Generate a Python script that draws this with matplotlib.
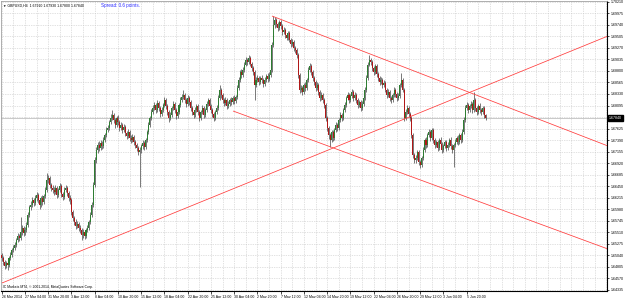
import numpy as np
import matplotlib.pyplot as plt

# GBPUSD H4 candles (price)
opens = [
    1.6505, 1.6499, 1.6491, 1.6483, 1.6489, 1.6485, 1.6499, 1.6505, 1.6515, 1.6519,
    1.6525, 1.6536, 1.6544, 1.6540, 1.6552, 1.6560, 1.6550, 1.6556, 1.6566, 1.6587,
    1.6603, 1.6607, 1.6617, 1.6611, 1.6621, 1.6627, 1.6617, 1.6607, 1.6621, 1.6613,
    1.6625, 1.6638, 1.6658, 1.6662, 1.6648, 1.6642, 1.6638, 1.6633, 1.6642, 1.6627,
    1.6638, 1.6646, 1.6629, 1.6623, 1.6638, 1.6642, 1.6631, 1.6621, 1.6617, 1.6593,
    1.6580, 1.6572, 1.6564, 1.6568, 1.6560, 1.6556, 1.6546, 1.6552, 1.6544, 1.6556,
    1.6560, 1.6572, 1.6587, 1.6607, 1.6648, 1.6699, 1.6719, 1.6729, 1.6723, 1.6733,
    1.6727, 1.6740, 1.6750, 1.6760, 1.6764, 1.6776, 1.6784, 1.6791, 1.6780, 1.6770,
    1.6784, 1.6776, 1.6764, 1.6770, 1.6760, 1.6766, 1.6754, 1.6748, 1.6756, 1.6744,
    1.6740, 1.6746, 1.6735, 1.6729, 1.6723, 1.6715, 1.6719, 1.6727, 1.6733, 1.6725,
    1.6740, 1.6756, 1.6770, 1.6784, 1.6797, 1.6805, 1.6811, 1.6801, 1.6815, 1.6805,
    1.6793, 1.6801, 1.6811, 1.6821, 1.6809, 1.6797, 1.6784, 1.6791, 1.6805, 1.6813,
    1.6801, 1.6788, 1.6797, 1.6811, 1.6821, 1.6827, 1.6831, 1.6821, 1.6813, 1.6825,
    1.6817, 1.6805, 1.6797, 1.6791, 1.6801, 1.6809, 1.6797, 1.6784, 1.6797, 1.6805,
    1.6791, 1.6801, 1.6813, 1.6821, 1.6809, 1.6801, 1.6793, 1.6784, 1.6797, 1.6805,
    1.6825, 1.6842, 1.6831, 1.6821, 1.6815, 1.6821, 1.6809, 1.6813, 1.6821, 1.6817,
    1.6825, 1.6819, 1.6827, 1.6846, 1.6862, 1.6878, 1.6872, 1.6882, 1.6893, 1.6903,
    1.6899, 1.6907, 1.6895, 1.6886, 1.6878, 1.6852, 1.6862, 1.6866, 1.6858, 1.6866,
    1.6862, 1.6854, 1.6862, 1.6870, 1.6864, 1.6872, 1.6882, 1.6933, 1.6974, 1.6984,
    1.6976, 1.6968, 1.6980, 1.6972, 1.6960, 1.6964, 1.6954, 1.6948, 1.6958, 1.6944,
    1.6935, 1.6939, 1.6927, 1.6923, 1.6913, 1.6872, 1.6842, 1.6846, 1.6837, 1.6852,
    1.6846, 1.6862, 1.6882, 1.6890, 1.6878, 1.6866, 1.6858, 1.6846, 1.6852, 1.6837,
    1.6825, 1.6831, 1.6821, 1.6811, 1.6784, 1.6764, 1.6750, 1.6740, 1.6756, 1.6744,
    1.6760, 1.6770, 1.6764, 1.6780, 1.6791, 1.6784, 1.6801, 1.6811, 1.6825, 1.6831,
    1.6821, 1.6829, 1.6837, 1.6825, 1.6831, 1.6821, 1.6811, 1.6817, 1.6805, 1.6813,
    1.6825, 1.6842, 1.6866, 1.6893, 1.6903, 1.6899, 1.6886, 1.6878, 1.6890, 1.6874,
    1.6866, 1.6858, 1.6862, 1.6852, 1.6856, 1.6842, 1.6831, 1.6837, 1.6825, 1.6821,
    1.6831, 1.6842, 1.6833, 1.6825, 1.6829, 1.6852, 1.6862, 1.6842, 1.6784, 1.6797,
    1.6805, 1.6793, 1.6784, 1.6750, 1.6709, 1.6699, 1.6703, 1.6715, 1.6695, 1.6689,
    1.6703, 1.6719, 1.6740, 1.6729, 1.6750, 1.6756, 1.6744, 1.6760, 1.6740, 1.6729,
    1.6735, 1.6723, 1.6740, 1.6731, 1.6719, 1.6727, 1.6735, 1.6723, 1.6729, 1.6740,
    1.6727, 1.6719, 1.6729, 1.6735, 1.6744, 1.6735, 1.6750, 1.6740, 1.6756, 1.6780,
    1.6805, 1.6811, 1.6801, 1.6809, 1.6813, 1.6801, 1.6821, 1.6805, 1.6797, 1.6809,
    1.6801, 1.6797, 1.6805, 1.6791,
]
highs = [
    1.6509, 1.6503, 1.6495, 1.6493, 1.6495, 1.6503, 1.6511, 1.6519, 1.6525, 1.6531,
    1.6540, 1.6550, 1.6548, 1.6582, 1.6566, 1.6564, 1.6562, 1.6572, 1.6593, 1.6607,
    1.6615, 1.6623, 1.6621, 1.6627, 1.6633, 1.6631, 1.6621, 1.6625, 1.6627, 1.6629,
    1.6644, 1.6672, 1.6668, 1.6666, 1.6652, 1.6648, 1.6644, 1.6648, 1.6646, 1.6642,
    1.6652, 1.6650, 1.6633, 1.6644, 1.6648, 1.6646, 1.6635, 1.6627, 1.6621, 1.6597,
    1.6584, 1.6578, 1.6574, 1.6572, 1.6566, 1.6560, 1.6558, 1.6556, 1.6560, 1.6566,
    1.6576, 1.6593, 1.6613, 1.6654, 1.6705, 1.6725, 1.6735, 1.6737, 1.6739, 1.6737,
    1.6746, 1.6754, 1.6766, 1.6770, 1.6780, 1.6792, 1.6801, 1.6795, 1.6784, 1.6788,
    1.6790, 1.6780, 1.6776, 1.6774, 1.6772, 1.6770, 1.6758, 1.6762, 1.6760, 1.6750,
    1.6752, 1.6750, 1.6739, 1.6733, 1.6727, 1.6725, 1.6731, 1.6739, 1.6737, 1.6744,
    1.6760, 1.6776, 1.6788, 1.6803, 1.6811, 1.6817, 1.6815, 1.6821, 1.6819, 1.6809,
    1.6807, 1.6815, 1.6827, 1.6825, 1.6813, 1.6801, 1.6797, 1.6809, 1.6819, 1.6817,
    1.6805, 1.6803, 1.6815, 1.6827, 1.6833, 1.6841, 1.6835, 1.6825, 1.6831, 1.6829,
    1.6821, 1.6809, 1.6801, 1.6807, 1.6813, 1.6813, 1.6801, 1.6801, 1.6811, 1.6809,
    1.6805, 1.6819, 1.6825, 1.6825, 1.6813, 1.6805, 1.6797, 1.6801, 1.6811, 1.6831,
    1.6851, 1.6846, 1.6835, 1.6825, 1.6827, 1.6825, 1.6819, 1.6825, 1.6827, 1.6829,
    1.6831, 1.6831, 1.6852, 1.6868, 1.6882, 1.6884, 1.6888, 1.6899, 1.6909, 1.6907,
    1.6913, 1.6911, 1.6899, 1.6890, 1.6882, 1.6868, 1.6872, 1.6870, 1.6870, 1.6872,
    1.6866, 1.6868, 1.6874, 1.6876, 1.6878, 1.6888, 1.6939, 1.6992, 1.6990, 1.6988,
    1.6980, 1.6984, 1.6984, 1.6976, 1.6970, 1.6968, 1.6958, 1.6962, 1.6962, 1.6948,
    1.6945, 1.6943, 1.6931, 1.6927, 1.6917, 1.6876, 1.6852, 1.6850, 1.6856, 1.6858,
    1.6866, 1.6888, 1.6896, 1.6894, 1.6882, 1.6870, 1.6862, 1.6858, 1.6856, 1.6841,
    1.6837, 1.6835, 1.6825, 1.6815, 1.6788, 1.6768, 1.6754, 1.6760, 1.6760, 1.6764,
    1.6776, 1.6774, 1.6784, 1.6797, 1.6795, 1.6805, 1.6817, 1.6829, 1.6837, 1.6835,
    1.6833, 1.6843, 1.6841, 1.6837, 1.6835, 1.6825, 1.6821, 1.6821, 1.6819, 1.6829,
    1.6848, 1.6872, 1.6899, 1.6912, 1.6907, 1.6903, 1.6890, 1.6894, 1.6894, 1.6878,
    1.6870, 1.6868, 1.6866, 1.6862, 1.6860, 1.6846, 1.6843, 1.6841, 1.6829, 1.6835,
    1.6848, 1.6846, 1.6837, 1.6835, 1.6856, 1.6876, 1.6866, 1.6846, 1.6803, 1.6811,
    1.6809, 1.6797, 1.6788, 1.6754, 1.6713, 1.6709, 1.6719, 1.6719, 1.6699, 1.6707,
    1.6725, 1.6744, 1.6746, 1.6754, 1.6762, 1.6760, 1.6764, 1.6764, 1.6744, 1.6739,
    1.6739, 1.6744, 1.6746, 1.6735, 1.6731, 1.6739, 1.6739, 1.6735, 1.6744, 1.6746,
    1.6731, 1.6733, 1.6741, 1.6748, 1.6750, 1.6754, 1.6754, 1.6762, 1.6786, 1.6811,
    1.6817, 1.6815, 1.6813, 1.6819, 1.6817, 1.6837, 1.6825, 1.6809, 1.6813, 1.6815,
    1.6805, 1.6809, 1.6809, 1.6793,
]
lows = [
    1.6493, 1.6485, 1.6477, 1.6479, 1.6474, 1.6481, 1.6495, 1.6501, 1.6511, 1.6515,
    1.6521, 1.6532, 1.6534, 1.6536, 1.6546, 1.6544, 1.6546, 1.6552, 1.6562, 1.6583,
    1.6597, 1.6603, 1.6605, 1.6607, 1.6615, 1.6611, 1.6599, 1.6603, 1.6607, 1.6609,
    1.6621, 1.6634, 1.6652, 1.6642, 1.6636, 1.6632, 1.6627, 1.6629, 1.6621, 1.6623,
    1.6634, 1.6623, 1.6617, 1.6619, 1.6634, 1.6625, 1.6615, 1.6609, 1.6587, 1.6574,
    1.6566, 1.6558, 1.6560, 1.6554, 1.6550, 1.6535, 1.6540, 1.6538, 1.6540, 1.6552,
    1.6556, 1.6568, 1.6583, 1.6603, 1.6644, 1.6693, 1.6713, 1.6717, 1.6719, 1.6721,
    1.6723, 1.6736, 1.6746, 1.6756, 1.6760, 1.6772, 1.6780, 1.6774, 1.6764, 1.6766,
    1.6770, 1.6758, 1.6760, 1.6754, 1.6756, 1.6748, 1.6742, 1.6744, 1.6738, 1.6734,
    1.6736, 1.6729, 1.6723, 1.6717, 1.6709, 1.6643, 1.6713, 1.6721, 1.6719, 1.6721,
    1.6736, 1.6752, 1.6766, 1.6780, 1.6793, 1.6801, 1.6795, 1.6797, 1.6799, 1.6787,
    1.6789, 1.6797, 1.6807, 1.6803, 1.6791, 1.6776, 1.6780, 1.6787, 1.6801, 1.6795,
    1.6782, 1.6784, 1.6793, 1.6807, 1.6817, 1.6823, 1.6815, 1.6807, 1.6809, 1.6811,
    1.6799, 1.6791, 1.6785, 1.6787, 1.6797, 1.6791, 1.6778, 1.6780, 1.6793, 1.6785,
    1.6787, 1.6797, 1.6809, 1.6803, 1.6795, 1.6787, 1.6778, 1.6780, 1.6793, 1.6801,
    1.6821, 1.6825, 1.6815, 1.6809, 1.6811, 1.6803, 1.6805, 1.6809, 1.6811, 1.6813,
    1.6813, 1.6815, 1.6823, 1.6842, 1.6858, 1.6866, 1.6868, 1.6878, 1.6889, 1.6893,
    1.6895, 1.6889, 1.6880, 1.6872, 1.6821, 1.6848, 1.6858, 1.6852, 1.6854, 1.6856,
    1.6848, 1.6850, 1.6858, 1.6858, 1.6860, 1.6868, 1.6878, 1.6929, 1.6968, 1.6970,
    1.6962, 1.6964, 1.6966, 1.6954, 1.6956, 1.6948, 1.6942, 1.6944, 1.6938, 1.6929,
    1.6931, 1.6921, 1.6917, 1.6907, 1.6866, 1.6834, 1.6838, 1.6831, 1.6833, 1.6840,
    1.6842, 1.6858, 1.6878, 1.6872, 1.6860, 1.6852, 1.6840, 1.6842, 1.6831, 1.6819,
    1.6821, 1.6815, 1.6805, 1.6778, 1.6758, 1.6742, 1.6725, 1.6736, 1.6738, 1.6740,
    1.6756, 1.6758, 1.6760, 1.6776, 1.6778, 1.6780, 1.6797, 1.6807, 1.6821, 1.6815,
    1.6817, 1.6825, 1.6819, 1.6821, 1.6815, 1.6805, 1.6807, 1.6799, 1.6801, 1.6809,
    1.6821, 1.6838, 1.6862, 1.6889, 1.6893, 1.6880, 1.6872, 1.6874, 1.6868, 1.6860,
    1.6852, 1.6854, 1.6846, 1.6848, 1.6836, 1.6825, 1.6827, 1.6819, 1.6815, 1.6817,
    1.6827, 1.6827, 1.6819, 1.6821, 1.6825, 1.6848, 1.6836, 1.6778, 1.6780, 1.6793,
    1.6787, 1.6778, 1.6744, 1.6703, 1.6693, 1.6693, 1.6699, 1.6689, 1.6682, 1.6685,
    1.6699, 1.6715, 1.6723, 1.6725, 1.6746, 1.6738, 1.6740, 1.6734, 1.6723, 1.6725,
    1.6717, 1.6719, 1.6725, 1.6713, 1.6715, 1.6723, 1.6717, 1.6719, 1.6725, 1.6721,
    1.6713, 1.6684, 1.6725, 1.6731, 1.6729, 1.6731, 1.6734, 1.6736, 1.6752, 1.6776,
    1.6801, 1.6795, 1.6797, 1.6805, 1.6795, 1.6797, 1.6799, 1.6791, 1.6793, 1.6795,
    1.6791, 1.6793, 1.6785, 1.6780,
]
closes = [
    1.6499, 1.6491, 1.6483, 1.6489, 1.6485, 1.6499, 1.6505, 1.6515, 1.6519, 1.6525,
    1.6536, 1.6544, 1.6540, 1.6552, 1.6560, 1.6550, 1.6556, 1.6566, 1.6587, 1.6603,
    1.6607, 1.6617, 1.6611, 1.6621, 1.6627, 1.6617, 1.6607, 1.6621, 1.6613, 1.6625,
    1.6638, 1.6658, 1.6662, 1.6648, 1.6642, 1.6638, 1.6633, 1.6642, 1.6627, 1.6638,
    1.6646, 1.6629, 1.6623, 1.6638, 1.6642, 1.6631, 1.6621, 1.6617, 1.6593, 1.6580,
    1.6572, 1.6564, 1.6568, 1.6560, 1.6556, 1.6546, 1.6552, 1.6544, 1.6556, 1.6560,
    1.6572, 1.6587, 1.6607, 1.6648, 1.6699, 1.6719, 1.6729, 1.6723, 1.6733, 1.6727,
    1.6740, 1.6750, 1.6760, 1.6764, 1.6776, 1.6784, 1.6791, 1.6780, 1.6770, 1.6784,
    1.6776, 1.6764, 1.6770, 1.6760, 1.6766, 1.6754, 1.6748, 1.6756, 1.6744, 1.6740,
    1.6746, 1.6735, 1.6729, 1.6723, 1.6715, 1.6719, 1.6727, 1.6733, 1.6725, 1.6740,
    1.6756, 1.6770, 1.6784, 1.6797, 1.6805, 1.6811, 1.6801, 1.6815, 1.6805, 1.6793,
    1.6801, 1.6811, 1.6821, 1.6809, 1.6797, 1.6784, 1.6791, 1.6805, 1.6813, 1.6801,
    1.6788, 1.6797, 1.6811, 1.6821, 1.6827, 1.6831, 1.6821, 1.6813, 1.6825, 1.6817,
    1.6805, 1.6797, 1.6791, 1.6801, 1.6809, 1.6797, 1.6784, 1.6797, 1.6805, 1.6791,
    1.6801, 1.6813, 1.6821, 1.6809, 1.6801, 1.6793, 1.6784, 1.6797, 1.6805, 1.6825,
    1.6842, 1.6831, 1.6821, 1.6815, 1.6821, 1.6809, 1.6813, 1.6821, 1.6817, 1.6825,
    1.6819, 1.6827, 1.6846, 1.6862, 1.6878, 1.6872, 1.6882, 1.6893, 1.6903, 1.6899,
    1.6907, 1.6895, 1.6886, 1.6878, 1.6852, 1.6862, 1.6866, 1.6858, 1.6866, 1.6862,
    1.6854, 1.6862, 1.6870, 1.6864, 1.6872, 1.6882, 1.6933, 1.6974, 1.6984, 1.6976,
    1.6968, 1.6980, 1.6972, 1.6960, 1.6964, 1.6954, 1.6948, 1.6958, 1.6944, 1.6935,
    1.6939, 1.6927, 1.6923, 1.6913, 1.6872, 1.6842, 1.6846, 1.6837, 1.6852, 1.6846,
    1.6862, 1.6882, 1.6890, 1.6878, 1.6866, 1.6858, 1.6846, 1.6852, 1.6837, 1.6825,
    1.6831, 1.6821, 1.6811, 1.6784, 1.6764, 1.6750, 1.6740, 1.6756, 1.6744, 1.6760,
    1.6770, 1.6764, 1.6780, 1.6791, 1.6784, 1.6801, 1.6811, 1.6825, 1.6831, 1.6821,
    1.6829, 1.6837, 1.6825, 1.6831, 1.6821, 1.6811, 1.6817, 1.6805, 1.6813, 1.6825,
    1.6842, 1.6866, 1.6893, 1.6903, 1.6899, 1.6886, 1.6878, 1.6890, 1.6874, 1.6866,
    1.6858, 1.6862, 1.6852, 1.6856, 1.6842, 1.6831, 1.6837, 1.6825, 1.6821, 1.6831,
    1.6842, 1.6833, 1.6825, 1.6829, 1.6852, 1.6862, 1.6842, 1.6784, 1.6797, 1.6805,
    1.6793, 1.6784, 1.6750, 1.6709, 1.6699, 1.6703, 1.6715, 1.6695, 1.6689, 1.6703,
    1.6719, 1.6740, 1.6729, 1.6750, 1.6756, 1.6744, 1.6760, 1.6740, 1.6729, 1.6735,
    1.6723, 1.6740, 1.6731, 1.6719, 1.6727, 1.6735, 1.6723, 1.6729, 1.6740, 1.6727,
    1.6719, 1.6729, 1.6735, 1.6744, 1.6735, 1.6750, 1.6740, 1.6756, 1.6780, 1.6805,
    1.6811, 1.6801, 1.6809, 1.6813, 1.6801, 1.6821, 1.6805, 1.6797, 1.6809, 1.6801,
    1.6797, 1.6805, 1.6791, 1.6784,
]

# time axis labels (every 16 bars)
label_bars = [0, 16, 32, 48, 64, 80, 96, 112, 128, 144, 160,
              176, 192, 208, 224, 240, 256, 272, 288, 304, 320]
label_text = ["26 Mar 2014", "27 Mar 04:00", "31 Mar 20:00", "3 Apr 12:00",
              "8 Apr 04:00", "10 Apr 20:00", "15 Apr 12:00", "18 Apr 04:00",
              "22 Apr 20:00", "25 Apr 12:00", "30 Apr 04:00", "2 May 20:00",
              "7 May 12:00", "12 May 04:00", "14 May 20:00", "19 May 12:00",
              "22 May 04:00", "26 May 20:00", "29 May 12:00", "3 Jun 04:00",
              "5 Jun 20:00"]

# price scale labels
price_ticks = [1.70210, 1.69975, 1.69740, 1.69505, 1.69270, 1.69035, 1.68800,
               1.68565, 1.68330, 1.68095, 1.67860, 1.67625, 1.67390, 1.67155,
               1.66920, 1.66685, 1.66450, 1.66215, 1.65980, 1.65745, 1.65510,
               1.65275, 1.65040, 1.64805, 1.64570, 1.64335]

# trend lines (bar, price) -> (bar, price)
upper_line = [(186.0, 1.69919), (417.2, 1.67270)]
rising_line = [(0.2, 1.64477), (417.2, 1.69511)]
lower_line = [(159.2, 1.67983), (417.2, 1.65170)]

last_price = 1.67840

fig = plt.figure(figsize=(6.25, 2.98), dpi=100)
ax = fig.add_axes([1 / 625, 7 / 298, 606 / 625, 290 / 298])
ax.set_xlim(-0.5, -0.5 + 606 / 1.453)
ax.set_ylim(1.64314, 1.70225)

o = np.array(opens)
h = np.array(highs)
l = np.array(lows)
c = np.array(closes)
x = np.arange(len(c))
up = c >= o

# grid
for b in np.arange(0, 417, 8):
    ax.axvline(b, color='#c4c4c4', lw=0.5, ls=(0, (1, 1.5)), zorder=0)
for p in price_ticks:
    ax.axhline(p, color='#c4c4c4', lw=0.5, ls=(0, (1, 1.5)), zorder=0)

# current price line
ax.axhline(last_price, color='#c0c0c0', lw=0.6, zorder=1)

# candles
ax.vlines(x, l, h, color='#444444', lw=0.5, zorder=2)
ax.bar(x[up], (c - o)[up], bottom=o[up], width=0.7, color='#2e7d32', lw=0, zorder=3)
ax.bar(x[~up], (c - o)[~up], bottom=o[~up], width=0.7, color='#b01818', lw=0, zorder=3)

# trend lines
for line in (upper_line, rising_line, lower_line):
    ax.plot([line[0][0], line[1][0]], [line[0][1], line[1][1]],
            color='#ff3c3c', lw=0.55, zorder=4, solid_capstyle='butt')

# axes look
for side in ('left', 'top'):
    ax.spines[side].set_color('#a0a0a0')
    ax.spines[side].set_linewidth(0.6)
for side in ('right', 'bottom'):
    ax.spines[side].set_color('black')
    ax.spines[side].set_linewidth(0.8)

# the price box hides the scale label that sits under it
shown = ['' if abs(p - last_price) < 0.001 else '%.5f' % p for p in price_ticks]
ax.yaxis.tick_right()
ax.set_yticks(price_ticks)
ax.set_yticklabels(shown, fontsize=2.6, family='Liberation Sans')
ax.tick_params(axis='y', length=1.5, width=0.5, pad=1.2, colors='black')

ax.set_xticks(label_bars)
ax.set_xticklabels(label_text, fontsize=2.5, family='Liberation Sans', ha='left')
ax.tick_params(axis='x', length=2, width=0.5, pad=0.8, colors='black')

# chart texts
fig.text(3 / 625, 1 - 6 / 298,
         u'\u25bc GBPUSD,H4  1.67910 1.67930 1.67800 1.67840',
         fontsize=2.5, family=['Liberation Sans', 'DejaVu Sans'],
         va='center', ha='left')
fig.text(101 / 625, 1 - 6 / 298, 'Spread: 0.6 points.', fontsize=3.3,
         family='Liberation Sans', color='#2b2bff', va='center', ha='left')
fig.text(3 / 625, 1 - 287 / 298,
         u'IC Markets MT4, \u00a9 2001-2014, MetaQuotes Software Corp.',
         fontsize=2.4, family='Liberation Sans', va='center', ha='left')

# current price box on the scale
fig.text(609 / 625, 1 - 118 / 298, '%.5f' % last_price, fontsize=2.6,
         family='Liberation Sans', color='white', va='center', ha='left',
         bbox=dict(facecolor='black', edgecolor='black', pad=0.6))

fig.savefig('out.png', dpi=100, facecolor='white')
